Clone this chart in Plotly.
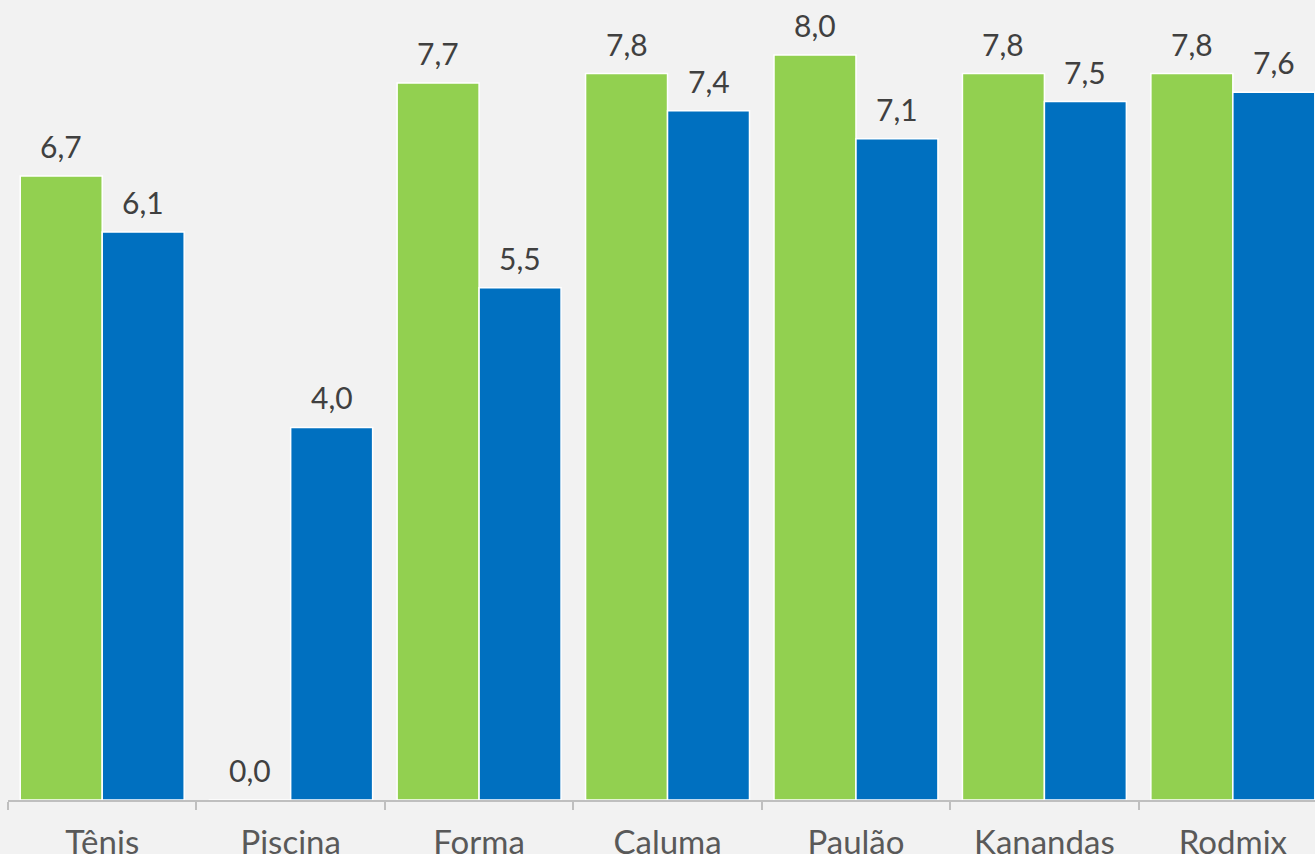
import plotly.graph_objects as go

categories = ["Tênis", "Piscina", "Forma", "Caluma", "Paulão", "Kanandas", "Rodmix"]
serie_verde = [6.7, 0.0, 7.7, 7.8, 8.0, 7.8, 7.8]
serie_azul = [6.1, 4.0, 5.5, 7.4, 7.1, 7.5, 7.6]


def rotulo(v):
    return f"{v:.1f}".replace(".", ",")


fig = go.Figure()
series = [("Série 1", serie_verde, "#92d050", -41), ("Série 2", serie_azul, "#0070c0", 41)]
for nome, valores, cor, deslocamento in series:
    fig.add_trace(go.Bar(
        x=categories,
        y=valores,
        name=nome,
        marker=dict(color=cor, line=dict(color="#ffffff", width=1.5)),
        cliponaxis=False,
    ))
    # value labels above each bar
    for cat, v in zip(categories, valores):
        fig.add_annotation(
            x=cat, y=v, xref="x", yref="y",
            text=rotulo(v),
            showarrow=False,
            xanchor="center", yanchor="bottom",
            xshift=deslocamento, yshift=10,
            font=dict(family="Lato", size=30, color="#404040"),
        )

fig.update_layout(
    width=1315,
    height=854,
    barmode="group",
    bargap=0.13,
    bargroupgap=0,
    showlegend=False,
    paper_bgcolor="#f2f2f2",
    plot_bgcolor="#f2f2f2",
    margin=dict(l=8, r=0, t=0, b=54),
    font=dict(family="Lato", color="#595959"),
    xaxis=dict(
        range=[-0.5, 6.436],
        automargin=False,
        showline=True,
        linecolor="#bfbfbf",
        linewidth=1.5,
        ticks="outside",
        tickson="boundaries",
        tickcolor="#bfbfbf",
        ticklen=8,
        tickwidth=1.5,
        ticklabelstandoff=13,
        tickfont=dict(family="Lato", size=33, color="#595959"),
        showgrid=False,
    ),
    yaxis=dict(
        range=[0, 8.59],
        visible=False,
        showgrid=False,
        zeroline=False,
    ),
)

fig.write_html("out.html")
